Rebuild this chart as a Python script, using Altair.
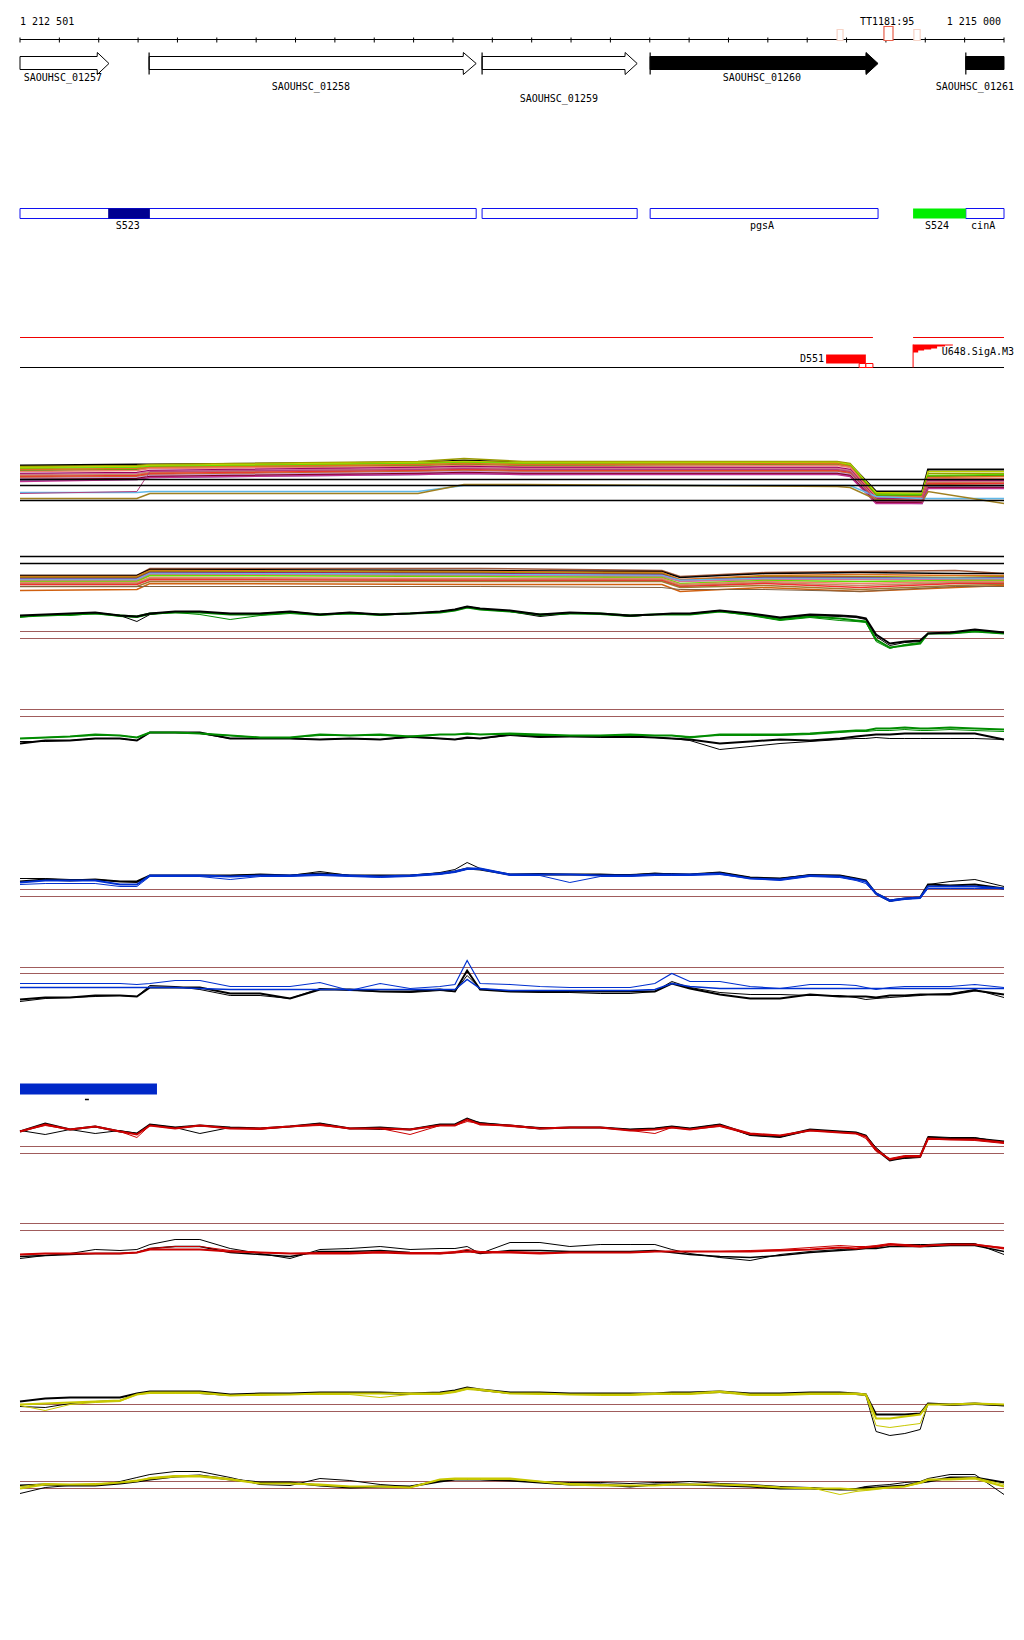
import altair as alt
import pandas as pd

START, END = 1212500, 1215000
FONT = "DejaVu Sans Mono"
W = 984
BROWN = "#A05C5C"

# ---------------- annotation data (bp offsets from region start) ----------------
TICKS_BP = list(range(0, 2501, 100))
RULER_LABELS = [("1 212 501", 0, "left"), ("1 215 000", 2500, "right"), ("TT1181:95", 2203, "center")]
RULER_BOXES = [(2076, 2091, 20, 9, "#F6D3C6"), (2195, 2218, 23, 9, "#E8604C"), (2271, 2287, 20, 9, "#F6D3C6")]

GENES = [  # name, start, head start, tip, filled, start bar
    ("SAOUHSC_01257", 0, 196, 226, False, False),
    ("SAOUHSC_01258", 328, 1126, 1159, False, True),
    ("SAOUHSC_01259", 1174, 1537, 1568, False, True),
    ("SAOUHSC_01260", 1601, 2149, 2180, True, True),
]
GENE_TRUNC = ("SAOUHSC_01261", 2403, 2500)
GENE_LABELS = [("SAOUHSC_01257", 109, 34), ("SAOUHSC_01258", 739, 25), ("SAOUHSC_01259", 1369, 13),
               ("SAOUHSC_01260", 1885, 34)]
GENE_LABEL_EDGE = ("SAOUHSC_01261", 2500, 25)

OPERON_BOXES = [(0, 1159), (1174, 1568), (1601, 2180), (2403, 2500)]
OPERON_FILLED = [(224, 330, "#000090"), (2269, 2403, "#00EE00")]
OPERON_LABELS = [("S523", 274), ("pgsA", 1885), ("S524", 2330), ("cinA", 2447)]

STAIR_BP = [2269, 2282, 2297, 2315, 2330, 2350, 2370]
STAIR_LOW = [29, 31, 32, 33, 35, 36, 36]

# ---------------- multi-colour track 1 ----------------
E_X = [0, 297, 330, 1011, 1128, 1278, 2076, 2109, 2175, 2292, 2307, 2500]
E_SERIES = [
    ("#000000", 2.0, [56, 57, 57, 59, 61, 59, 59, 57, 30, 30, 52, 52]),
    ("#999900", 1.5, [55, 56, 57, 60, 63, 60, 60, 58, 28, 27, 48, 48]),
    ("#C0D000", 1.5, [54, 55, 56, 59, 60, 59, 59, 57, 29, 28, 50, 50]),
    ("#66DD00", 1.5, [53, 54, 55, 58, 59, 58, 58, 56, 27, 27, 46, 47]),
    ("#40A000", 1.5, [51, 52, 54, 56, 57, 56, 57, 55, 26, 26, 45, 46]),
    ("#E07020", 1.5, [52, 53, 54, 57, 58, 57, 58, 55, 25, 25, 44, 45]),
    ("#F08070", 1.5, [50, 51, 53, 55, 56, 55, 56, 54, 24, 24, 43, 43]),
    ("#99005F", 1.5, [48, 49, 51, 54, 55, 54, 54, 52, 23, 23, 41, 41]),
    ("#D070A0", 1.5, [47, 48, 50, 53, 54, 53, 53, 51, 22, 22, 40, 40]),
    ("#C09060", 1.5, [46, 47, 49, 52, 53, 52, 52, 50, 22, 21, 39, 39]),
    ("#F03030", 1.5, [45, 46, 48, 51, 52, 51, 51, 49, 21, 21, 38, 38]),
    ("#C86428", 1.5, [44, 45, 47, 50, 51, 50, 50, 48, 20, 20, 37, 36]),
    ("#C8A0D8", 1.5, [43, 44, 46, 49, 50, 49, 49, 47, 20, 19, 35, 35]),
    ("#8090C0", 1.5, [41, 42, 44, 47, 48, 47, 48, 46, 19, 18, 35, 36]),
    ("#800020", 1.5, [42, 43, 45, 48, 49, 48, 48, 46, 19, 19, 34, 34]),
    ("#C03090", 1.5, [40, 42, 44, 47, 48, 47, 47, 45, 18, 18, 33, 33]),
    ("#60B8E8", 1.5, [29, 29, 30, 30, 36, 36, 36, 36, 25, 23, 23, 23]),
    ("#A08020", 1.5, [23, 23, 28, 28, 37, 37, 35, 34, 22, 20, 30, 18]),
    ("#B04080", 1.0, [28, 30, 50, 52, 53, 52, 52, 50, 20, 20, 36, 36]),
]
E_HLINES = [42, 36, 21]

# ---------------- multi-colour track 2 ----------------
F_X = [0, 297, 330, 1169, 1631, 1677, 1893, 2134, 2376, 2500]
F_SERIES = [
    ("#A05A3C", 1.5, [26, 26, 33, 33, 31, 25, 29, 30, 31, 28]),
    ("#000000", 1.5, [26, 26, 32, 31, 30, 24, 28, 29, 28, 28]),
    ("#E07020", 1.5, [25, 25, 31, 30, 29, 22, 26, 27, 26, 26]),
    ("#999900", 1.5, [24, 24, 30, 29, 28, 21, 25, 25, 24, 25]),
    ("#99005F", 1.5, [23, 23, 29, 28, 27, 21, 24, 24, 23, 24]),
    ("#60B8E8", 2.0, [22, 22, 28, 27, 26, 21, 23, 23, 23, 23]),
    ("#D070A0", 1.5, [21, 21, 27, 26, 25, 20, 22, 22, 22, 22]),
    ("#66DD00", 1.5, [20, 20, 26, 25, 24, 18, 21, 20, 21, 21]),
    ("#F08070", 1.5, [19, 19, 24, 23, 23, 17, 20, 18, 20, 20]),
    ("#C09060", 1.5, [18, 18, 23, 22, 22, 16, 19, 16, 19, 19]),
    ("#F03030", 1.5, [17, 17, 22, 21, 21, 15, 18, 14, 18, 18]),
    ("#A07830", 1.5, [15, 15, 20, 20, 20, 14, 16, 12, 16, 17]),
    ("#D06010", 1.5, [11, 12, 18, 17, 17, 10, 14, 10, 14, 16]),
    ("#806040", 1.0, [15, 15, 15, 15, 14, 12, 12, 10, 15, 15]),
]
F_HLINES = [45, 38]

# ---------------- profile tracks (shared positions) ----------------
GRID_BP = [0, 64, 127, 191, 254, 297, 330, 394, 457, 534, 610, 686, 762, 838, 915, 991, 1067, 1105,
           1136, 1169, 1245, 1321, 1397, 1474, 1550, 1613, 1656, 1702, 1778, 1855, 1931, 2007, 2083,
           2124, 2149, 2175, 2210, 2248, 2287, 2307, 2363, 2426, 2500]

G_GREEN_THIN = [74, 77, 76, 78, 75, 74, 77, 79, 77, 72, 76, 78, 76, 78, 76, 78, 79, 81, 84, 82, 80, 76, 78, 77, 75, 77, 77, 77, 80, 76, 71, 74, 71, 70, 69, 50, 43, 47, 49, 58, 58, 60, 58]
G_BLACK_THIN = [75, 77, 77, 79, 76, 70, 77, 80, 79, 78, 78, 80, 77, 79, 77, 78, 80, 82, 85, 83, 80, 75, 78, 78, 75, 77, 78, 78, 81, 77, 73, 76, 75, 74, 72, 55, 46, 49, 50, 58, 59, 61, 59]
G_GREEN = [75, 76, 77, 78, 76, 75, 78, 79, 79, 77, 77, 79, 77, 78, 77, 78, 79, 81, 84, 82, 80, 77, 78, 78, 76, 77, 77, 77, 80, 77, 72, 75, 73, 71, 70, 52, 44, 46, 48, 58, 58, 60, 58]
G_BLACK = [76, 77, 78, 79, 76, 75, 78, 80, 80, 78, 78, 80, 77, 79, 77, 78, 80, 82, 85, 83, 81, 77, 79, 78, 76, 77, 78, 78, 81, 78, 74, 77, 76, 75, 73, 57, 48, 50, 51, 58, 59, 62, 59]
G_THRESH = [60, 53]

H_BLACK_THIN = [60, 60, 61, 63, 63, 61, 69, 69, 68, 63, 63, 63, 62, 63, 62, 64, 63, 62, 63, 63, 66, 64, 65, 64, 64, 64, 63, 61, 52, 55, 58, 60, 62, 63, 63, 64, 63, 63, 63, 63, 63, 63, 62]
H_BLACK = [58, 61, 61, 63, 63, 61, 69, 69, 69, 63, 63, 63, 62, 63, 62, 65, 63, 62, 64, 63, 67, 65, 65, 65, 65, 64, 63, 62, 58, 60, 62, 61, 63, 65, 66, 67, 67, 68, 68, 68, 68, 68, 62]
H_GREEN_THIN = [63, 64, 65, 66, 66, 64, 69, 69, 68, 66, 64, 64, 66, 66, 66, 65, 67, 67, 67, 67, 67, 66, 66, 66, 66, 66, 66, 65, 66, 66, 66, 67, 69, 70, 70, 71, 71, 72, 71, 71, 72, 71, 70]
H_GREEN = [63, 64, 65, 67, 66, 64, 69, 69, 68, 66, 64, 64, 67, 66, 67, 65, 67, 67, 68, 67, 68, 67, 66, 66, 67, 66, 66, 64, 67, 67, 67, 68, 70, 71, 71, 73, 73, 74, 73, 73, 74, 73, 72]
H_THRESH = [92, 85]

I_BLACK_THIN = [63, 63, 62, 62, 60, 59, 66, 66, 66, 66, 67, 66, 70, 66, 66, 66, 69, 72, 79, 73, 67, 68, 67, 67, 67, 68, 68, 67, 69, 64, 63, 67, 66, 63, 60, 47, 40, 43, 44, 57, 60, 62, 55]
I_BLACK = [60, 62, 61, 62, 60, 60, 66, 66, 66, 66, 67, 66, 68, 66, 66, 66, 68, 70, 73, 72, 67, 67, 67, 67, 66, 68, 67, 67, 69, 64, 63, 66, 66, 63, 61, 48, 41, 43, 44, 57, 56, 57, 53]
I_BLUE_THIN = [57, 58, 58, 58, 55, 55, 65, 65, 65, 62, 65, 65, 66, 65, 64, 65, 67, 69, 72, 72, 66, 66, 59, 65, 65, 66, 66, 66, 67, 63, 61, 65, 64, 61, 58, 47, 40, 42, 43, 53, 53, 53, 53]
I_BLUE = [59, 61, 61, 61, 57, 57, 66, 66, 66, 65, 66, 66, 67, 66, 65, 66, 68, 70, 73, 73, 67, 67, 67, 66, 66, 67, 67, 67, 68, 63, 62, 66, 65, 62, 60, 48, 41, 43, 44, 55, 55, 55, 53]
I_THRESH = [52, 45]

J_BLACK_THIN = [60, 63, 64, 65, 66, 65, 76, 75, 72, 66, 66, 63, 73, 71, 70, 69, 71, 70, 86, 73, 70, 69, 69, 68, 68, 70, 80, 74, 69, 67, 67, 66, 66, 64, 62, 63, 64, 65, 66, 67, 68, 72, 64]
J_BLACK = [62, 64, 64, 66, 66, 65, 74, 74, 74, 68, 68, 63, 72, 72, 70, 70, 72, 70, 91, 72, 70, 70, 70, 70, 70, 70, 78, 73, 67, 63, 63, 67, 65, 65, 65, 64, 66, 66, 67, 67, 67, 71, 67]
J_BLUE_LOW = [74, 74, 74, 74, 74, 74, 74, 74, 73, 72, 72, 72, 72, 72, 72, 72, 72, 72, 82, 73, 71, 71, 71, 71, 71, 72, 78, 75, 73, 73, 73, 73, 73, 73, 73, 73, 73, 73, 73, 73, 73, 73, 73]
J_BLUE_HIGH = [78, 78, 78, 78, 78, 77, 78, 81, 81, 75, 75, 75, 79, 71, 78, 73, 75, 77, 101, 78, 77, 75, 74, 74, 74, 78, 88, 80, 80, 75, 73, 77, 77, 76, 74, 72, 74, 75, 75, 75, 75, 77, 74]
J_THRESH = [94, 88]

K_BAR = (0, 348, 18, 7)
K_DASH = (165, 175, 2)

L_BLACK_THIN = [71, 67, 72, 68, 71, 68, 77, 74, 68, 74, 73, 75, 78, 73, 72, 72, 77, 77, 82, 79, 76, 74, 74, 74, 72, 73, 75, 73, 77, 66, 64, 71, 70, 69, 66, 54, 42, 43, 44, 65, 64, 64, 59]
L_BLACK = [70, 78, 72, 75, 70, 68, 77, 74, 76, 74, 73, 75, 78, 73, 74, 72, 77, 77, 83, 78, 76, 73, 74, 74, 72, 73, 75, 73, 77, 67, 65, 72, 70, 69, 66, 52, 41, 44, 45, 64, 63, 63, 60]
L_RED_THIN = [70, 76, 72, 75, 70, 64, 76, 73, 76, 73, 72, 75, 76, 73, 73, 67, 76, 76, 80, 78, 75, 73, 74, 74, 71, 68, 74, 72, 75, 67, 66, 71, 69, 68, 63, 50, 43, 46, 46, 62, 62, 61, 58]
L_RED = [70, 77, 72, 75, 70, 67, 76, 73, 76, 73, 73, 75, 77, 73, 73, 72, 76, 76, 82, 77, 76, 73, 74, 74, 71, 72, 74, 72, 76, 68, 66, 71, 69, 68, 65, 52, 42, 45, 45, 63, 62, 62, 59]
L_THRESH = [55, 48]

M_BLACK_THIN = [43, 46, 48, 52, 51, 52, 57, 62, 62, 53, 48, 43, 52, 53, 55, 52, 53, 53, 55, 48, 59, 59, 55, 57, 57, 57, 52, 48, 44, 41, 47, 50, 52, 53, 54, 54, 57, 57, 57, 57, 58, 58, 47]
M_BLACK = [45, 46, 47, 48, 48, 49, 53, 55, 55, 49, 47, 45, 50, 50, 51, 49, 48, 49, 51, 48, 51, 51, 50, 50, 50, 51, 49, 47, 45, 44, 46, 49, 51, 52, 53, 53, 55, 55, 55, 55, 56, 56, 50]
M_RED_THIN = [47, 48, 48, 48, 48, 49, 53, 55, 55, 51, 49, 48, 49, 49, 50, 49, 49, 50, 52, 50, 50, 49, 49, 49, 49, 50, 50, 50, 50, 51, 52, 54, 56, 55, 55, 56, 58, 57, 56, 56, 57, 57, 54]
M_RED = [47, 48, 48, 48, 48, 49, 52, 52, 52, 50, 49, 48, 48, 48, 49, 48, 48, 49, 50, 49, 49, 48, 49, 49, 49, 50, 50, 50, 50, 50, 51, 52, 54, 53, 54, 55, 57, 56, 55, 56, 57, 57, 53]
M_THRESH = [78, 71]

N_BLACK_THIN = [45, 44, 48, 50, 51, 58, 59, 59, 58, 56, 57, 57, 58, 58, 58, 57, 58, 60, 64, 61, 58, 58, 58, 57, 57, 58, 58, 58, 59, 57, 57, 58, 58, 57, 56, 20, 16, 18, 22, 48, 46, 47, 46]
N_BLACK = [50, 53, 54, 54, 54, 58, 60, 60, 60, 57, 58, 58, 59, 59, 59, 58, 59, 61, 64, 62, 59, 59, 58, 58, 58, 58, 59, 59, 60, 58, 58, 59, 59, 58, 57, 37, 37, 37, 38, 48, 47, 48, 46]
N_YELLOW_THIN = [46, 41, 47, 49, 50, 57, 58, 58, 58, 56, 56, 57, 57, 57, 54, 57, 57, 59, 62, 61, 58, 57, 57, 56, 56, 57, 57, 57, 59, 56, 56, 57, 57, 57, 56, 26, 24, 26, 28, 47, 47, 48, 47]
N_YELLOW = [47, 48, 49, 50, 51, 57, 59, 59, 59, 56, 57, 57, 58, 58, 58, 58, 58, 60, 63, 62, 58, 58, 57, 57, 57, 58, 58, 58, 60, 57, 57, 58, 58, 58, 57, 33, 33, 35, 37, 47, 47, 48, 47]
N_THRESH = [47, 40]

O_BLACK_THIN = [68, 74, 76, 76, 80, 84, 87, 90, 90, 84, 77, 76, 83, 81, 77, 75, 81, 82, 83, 82, 81, 80, 79, 79, 78, 79, 79, 80, 78, 77, 75, 74, 72, 73, 75, 76, 77, 79, 80, 83, 87, 87, 67]
O_BLACK = [76, 77, 76, 76, 78, 80, 82, 85, 86, 82, 79, 79, 76, 74, 75, 75, 80, 82, 82, 82, 81, 79, 77, 77, 75, 77, 77, 77, 76, 75, 73, 73, 72, 72, 74, 74, 75, 76, 79, 80, 84, 84, 79]
O_YELLOW_THIN = [75, 78, 77, 78, 79, 80, 84, 86, 86, 83, 78, 78, 76, 75, 75, 74, 82, 82, 82, 82, 82, 80, 78, 77, 76, 76, 77, 77, 77, 76, 74, 74, 67, 70, 71, 72, 74, 75, 78, 81, 83, 84, 77]
O_YELLOW = [73, 77, 77, 77, 79, 81, 83, 85, 85, 82, 78, 78, 77, 75, 75, 74, 82, 83, 83, 83, 83, 80, 77, 76, 76, 76, 77, 77, 77, 76, 74, 73, 73, 72, 72, 73, 74, 75, 79, 82, 82, 83, 75]
O_THRESH = [80, 73]

GREEN, BLUE, RED, YELLOW = "#008C00", "#0030D0", "#CC0000", "#C8C800"

# ---------------- helpers ----------------
XS = alt.Scale(domain=[START, END], nice=False, zero=False)


def X():
    return alt.X("pos:Q", scale=XS, axis=None)


def Y(H):
    return alt.Y("v:Q", scale=alt.Scale(domain=[0, H], nice=False, zero=False), axis=None)


def line(xs, vals, H, color, sw):
    df = pd.DataFrame({"pos": [START + b for b in xs], "v": vals})
    return alt.Chart(df).mark_line(color=color, strokeWidth=sw).encode(x=X(), y=Y(H))


def hrule(H, v, color, sw=1.0, x0=0, x1=2500):
    df = pd.DataFrame({"pos": [START + x0], "pos2": [START + x1], "v": [v]})
    return alt.Chart(df).mark_rule(color=color, strokeWidth=sw).encode(x=X(), x2="pos2:Q", y=Y(H))


def vrule(H, rows, color, sw=1.0):
    df = pd.DataFrame({"pos": [START + r[0] for r in rows], "v": [r[1] for r in rows], "v2": [r[2] for r in rows]})
    return alt.Chart(df).mark_rule(color=color, strokeWidth=sw).encode(x=X(), y=Y(H), y2="v2:Q")


def rect(H, rows, fill, stroke=None, sw=1.0):
    df = pd.DataFrame({"pos": [START + r[0] for r in rows], "pos2": [START + r[1] for r in rows],
                       "v": [r[2] for r in rows], "v2": [r[3] for r in rows]})
    kw = dict(fill=fill)
    if stroke is not None:
        kw.update(stroke=stroke, strokeWidth=sw)
    return alt.Chart(df).mark_rect(**kw).encode(x=X(), x2="pos2:Q", y=Y(H), y2="v2:Q")


def text(H, rows, align="center", dx=0):
    df = pd.DataFrame({"pos": [START + r[1] for r in rows], "v": [r[2] for r in rows], "label": [r[0] for r in rows]})
    return alt.Chart(df).mark_text(align=align, baseline="middle", font=FONT, fontSize=10,
                                   color="black", dx=dx).encode(x=X(), y=Y(H), text="label:N")


def panel(layers, H):
    return alt.layer(*layers).properties(width=W, height=H)


def profile(H, thresh, series):
    layers = [hrule(H, t, BROWN, 1.0) for t in thresh]
    for vals, color, sw in series:
        layers.append(line(GRID_BP, vals, H, color, sw))
    return panel(layers, H)


# ---------------- panels ----------------
HA = 40
pA = panel(
    [hrule(HA, 10, "black", 1.0)]
    + [vrule(HA, [(t, 12, 7) for t in TICKS_BP], "black", 1.0)]
    + [rect(HA, [(b[0], b[1], b[2], b[3])], "white", b[4], 1.2) for b in RULER_BOXES]
    + [text(HA, [(lab, pos, 28)], align=al, dx=(-3 if al == "right" else 0)) for lab, pos, al in RULER_LABELS],
    HA)

HB = 62
gene_layers = []
for name, s, h, tip, filled, bar in GENES:
    df = pd.DataFrame({"pos": [START + s, START + h, START + h + 0.5, START + tip],
                       "v": [55, 55, 59, 48], "v2": [42, 42, 37, 48]})
    gene_layers.append(alt.Chart(df).mark_area(fill="black" if filled else "white", stroke="black",
                                               strokeWidth=1.0, interpolate="linear")
                       .encode(x=X(), y=Y(HB), y2="v2:Q"))
gene_layers.append(rect(HB, [(GENE_TRUNC[1], GENE_TRUNC[2], 55, 42)], "black", "black", 1.0))
gene_layers.append(vrule(HB, [(g[1], 59, 37) for g in GENES if g[5]] + [(GENE_TRUNC[1], 59, 37)], "black", 1.2))
gene_layers.append(text(HB, GENE_LABELS))
gene_layers.append(text(HB, [GENE_LABEL_EDGE], align="right", dx=10))
pB = panel(gene_layers, HB)

HC = 130
pC = panel([
    rect(HC, [(a, b, 33, 23) for a, b in OPERON_BOXES], "white", "#1010F0", 1.0),
    rect(HC, [(OPERON_FILLED[0][0], OPERON_FILLED[0][1], 33, 23)], OPERON_FILLED[0][2]),
    rect(HC, [(OPERON_FILLED[1][0], OPERON_FILLED[1][1], 33, 23)], OPERON_FILLED[1][2]),
    text(HC, [(n, p, 16) for n, p in OPERON_LABELS]),
], HC)

HD = 140
stair = pd.DataFrame({"pos": [START + b for b in STAIR_BP], "v": [37] * len(STAIR_BP), "v2": STAIR_LOW})
pD = panel([
    hrule(HD, 44, "#F00000", 1.0, 0, 2167),
    hrule(HD, 44, "#F00000", 1.0, 2269, 2500),
    hrule(HD, 14, "black", 1.0),
    rect(HD, [(2048, 2149, 27, 18)], "#FF0000"),
    rect(HD, [(2132, 2149, 18, 14), (2149, 2167, 18, 14)], "white", "#FF0000", 1.0),
    alt.Chart(stair).mark_area(color="#FF0000", interpolate="step-after").encode(x=X(), y=Y(HD), y2="v2:Q"),
    vrule(HD, [(2269, 37, 14)], "#FF0000", 1.0),
    text(HD, [("D551", 2043, 23)], align="right"),
    text(HD, [("U648.SigA.M3", 2500, 30)], align="right", dx=10),
], HD)

HE = 140
pE = panel([line(E_X, vals, HE, c, sw) for c, sw, vals in E_SERIES]
           + [hrule(HE, v, "black", 1.5) for v in E_HLINES], HE)

HF = 80
pF = panel([hrule(HF, v, "black", 1.5) for v in F_HLINES]
           + [line(F_X, vals, HF, c, sw) for c, sw, vals in F_SERIES], HF)

pG = profile(90, G_THRESH, [(G_GREEN_THIN, GREEN, 1.0), (G_BLACK_THIN, "black", 1.0),
                            (G_GREEN, GREEN, 2.0), (G_BLACK, "black", 2.0)])
pH = profile(110, H_THRESH, [(H_BLACK_THIN, "black", 1.0), (H_BLACK, "black", 2.0),
                             (H_GREEN_THIN, GREEN, 1.0), (H_GREEN, GREEN, 2.0)])
pI = profile(140, I_THRESH, [(I_BLACK_THIN, "black", 1.0), (I_BLACK, "black", 2.0),
                             (I_BLUE_THIN, BLUE, 1.0), (I_BLUE, BLUE, 2.0)])
pJ = profile(120, J_THRESH, [(J_BLACK_THIN, "black", 1.0), (J_BLACK, "black", 2.0),
                             (J_BLUE_LOW, BLUE, 1.5), (J_BLUE_HIGH, BLUE, 1.2)])

HK = 40
pK = panel([
    rect(HK, [K_BAR], "#0028C8"),
    hrule(HK, K_DASH[2], "black", 1.5, K_DASH[0], K_DASH[1]),
], HK)

pL = profile(100, L_THRESH, [(L_BLACK_THIN, "black", 1.0), (L_BLACK, "black", 2.0),
                             (L_RED_THIN, RED, 1.0), (L_RED, RED, 2.0)])
pM = profile(100, M_THRESH, [(M_BLACK_THIN, "black", 1.0), (M_BLACK, "black", 1.5),
                             (M_RED_THIN, RED, 1.0), (M_RED, RED, 2.0)])
pN = profile(150, N_THRESH, [(N_BLACK_THIN, "black", 1.0), (N_BLACK, "black", 2.0),
                             (N_YELLOW_THIN, YELLOW, 1.0), (N_YELLOW, YELLOW, 2.0)])
pO = profile(110, O_THRESH, [(O_BLACK_THIN, "black", 1.0), (O_BLACK, "black", 2.0),
                             (O_YELLOW_THIN, YELLOW, 1.0), (O_YELLOW, YELLOW, 2.0)])

chart = alt.vconcat(pA, pB, pC, pD, pE, pF, pG, pH, pI, pJ, pK, pL, pM, pN, pO,
                    spacing=0, bounds="flush").properties(
    padding={"left": 7, "top": 0.5, "right": 0, "bottom": 0}
).configure_view(stroke="transparent").configure_concat(spacing=0)

chart.save("out.html", embed_options={"renderer": "svg", "actions": False})
